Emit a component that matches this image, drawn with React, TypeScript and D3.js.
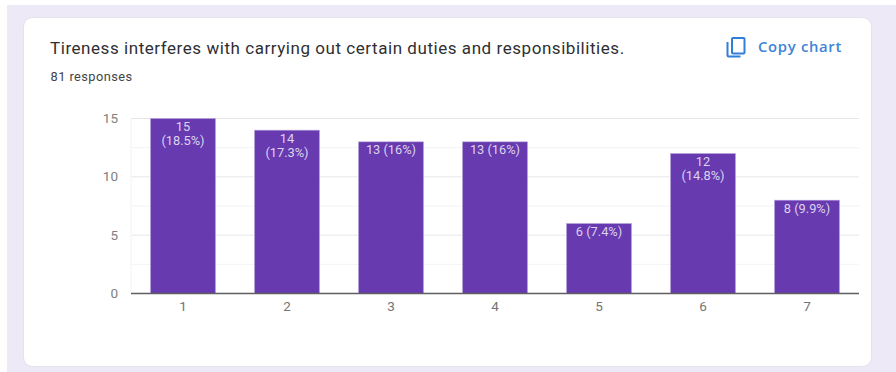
import React from "react";
import * as d3 from "d3";

const categories = ["1", "2", "3", "4", "5", "6", "7"];
const counts = [15, 14, 13, 13, 6, 12, 8];
const valueLabels = [
  ["15", "(18.5%)"],
  ["14", "(17.3%)"],
  ["13 (16%)"],
  ["13 (16%)"],
  ["6 (7.4%)"],
  ["12", "(14.8%)"],
  ["8 (9.9%)"],
];
const majorTicks = [0, 5, 10, 15];
const minorTicks = [2.5, 7.5, 12.5];

const WIDTH = 896;
const HEIGHT = 372;
const FONT = "Roboto, 'Noto Sans', sans-serif";

const x = d3.scaleBand<string>().domain(categories).range([131, 859]).paddingInner(0.375).paddingOuter(0.1875);
const y = d3.scaleLinear().domain([0, 15]).range([293.5, 118.5]);

export default function App() {
  return (
    <svg
      width={WIDTH}
      height={HEIGHT}
      viewBox={`0 0 ${WIDTH} ${HEIGHT}`}
      style={{ position: "fixed", left: 0, top: 0, display: "block", background: "#fff" }}
    >
      <rect x={7} y={5} width={889} height={367} fill="#ede9f7" />
      <rect x={23.5} y={17.5} width={848} height={349} rx={9} fill="#fff" stroke="#e4e2ea" />

      <text x={50} y={54} fontFamily={FONT} fontSize={17} letterSpacing={0.55} fill="#2f2f33">
        Tireness interferes with carrying out certain duties and responsibilities.
      </text>
      <text x={50.5} y={80.5} fontFamily={FONT} fontSize={12.8} letterSpacing={0.45} fill="#444448">
        81 responses
      </text>

      {/* copy icon */}
      <g fill="none" stroke="#2f7ed8" strokeWidth={2}>
        <rect x={732} y={38} width={12.5} height={15.5} rx={1} />
        <path d="M727.5 42 V55 a1.5 1.5 0 0 0 1.5 1.5 H740.5" />
      </g>
      <text x={758} y={51.5} fontFamily="'Open Sans', Roboto, sans-serif" fontWeight={600} fontSize={14.8} letterSpacing={0.7} fill="#3f84d6">
        Copy chart
      </text>

      {/* gridlines */}
      {minorTicks.map((t) => (
        <line key={t} x1={131} x2={859} y1={y(t)} y2={y(t)} stroke="#f3f3f3" />
      ))}
      {majorTicks.slice(1).map((t) => (
        <line key={t} x1={131} x2={859} y1={y(t)} y2={y(t)} stroke="#e6e6e6" />
      ))}
      <line x1={131} x2={131} y1={118} y2={293} stroke="#f3f3f3" />

      {/* bars */}
      {counts.map((v, i) => (
        <rect
          key={categories[i]}
          x={x(categories[i])}
          y={y(v)}
          width={x.bandwidth()}
          height={y(0) - y(v)}
          fill="#673ab0"
          stroke="#b9a6dc"
          strokeWidth={0.6}
        />
      ))}

      {/* baseline */}
      <line x1={131} x2={859} y1={y(0)} y2={y(0)} stroke="#5f5f63" strokeWidth={1.3} />

      {/* value labels inside the bars */}
      {counts.map((v, i) => {
        const cx = x(categories[i])! + x.bandwidth() / 2;
        return (
          <text key={categories[i]} textAnchor="middle" fontFamily={FONT} fontSize={12.8} fill="#dcd3ee">
            {valueLabels[i].map((line, j) => (
              <tspan key={j} x={cx} y={y(v) + 12.5 + j * 14}>
                {line}
              </tspan>
            ))}
          </text>
        );
      })}

      {/* y axis labels */}
      {majorTicks.map((t) => (
        <text key={t} x={118} y={y(t) + 4.5} textAnchor="end" fontFamily={FONT} fontSize={13.5} fill="#808080">
          {t}
        </text>
      ))}

      {/* x axis labels */}
      {categories.map((c) => (
        <text key={c} x={x(c)! + x.bandwidth() / 2} y={311} textAnchor="middle" fontFamily={FONT} fontSize={13.5} fill="#757575">
          {c}
        </text>
      ))}
    </svg>
  );
}
